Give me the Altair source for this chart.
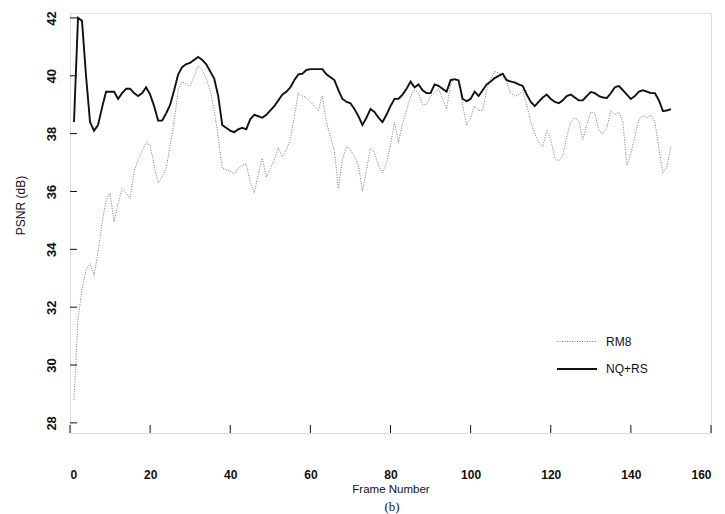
import altair as alt
import pandas as pd

frames = list(range(1, 151))

nqrs = [38.4, 42.0, 41.9, 40.0, 38.4, 38.1, 38.3, 38.9, 39.45, 39.45,
        39.45, 39.2, 39.4, 39.55, 39.55, 39.4, 39.3, 39.4, 39.6, 39.35,
        38.95, 38.45, 38.45, 38.7, 39.0, 39.5, 40.05, 40.3, 40.4, 40.45,
        40.55, 40.65, 40.55, 40.4, 40.15, 39.9, 39.3, 38.3, 38.2, 38.1,
        38.05, 38.15, 38.2, 38.15, 38.5, 38.65, 38.6, 38.55, 38.65, 38.8,
        38.95, 39.15, 39.35, 39.45, 39.6, 39.85, 40.05, 40.07, 40.2, 40.23,
        40.23, 40.23, 40.23, 40.05, 39.95, 39.85, 39.5, 39.2, 39.1, 39.05,
        38.85, 38.6, 38.3, 38.55, 38.85, 38.75, 38.55, 38.4, 38.65, 38.95,
        39.2, 39.2, 39.35, 39.55, 39.8, 39.6, 39.7, 39.5, 39.4, 39.4,
        39.7, 39.65, 39.55, 39.45, 39.85, 39.88, 39.84, 39.2, 39.12, 39.2,
        39.45, 39.3, 39.5, 39.7, 39.8, 39.92, 40.0, 40.07, 39.85, 39.8,
        39.77, 39.7, 39.65, 39.35, 39.1, 38.95, 39.1, 39.25, 39.35, 39.2,
        39.1, 39.05, 39.15, 39.3, 39.35, 39.25, 39.15, 39.15, 39.3, 39.44,
        39.4, 39.3, 39.25, 39.23, 39.4, 39.6, 39.65, 39.5, 39.35, 39.2,
        39.3, 39.45, 39.5, 39.45, 39.4, 39.4, 39.15, 38.78, 38.8, 38.85]

rm8 = [28.8, 31.6, 32.6, 33.3, 33.5, 33.1, 33.9, 34.9, 35.7, 35.95,
       34.95, 35.6, 36.1, 35.95, 35.75, 36.7, 37.1, 37.4, 37.7, 37.6,
       36.9, 36.3, 36.5, 36.8, 37.6, 38.4, 39.5, 39.8, 39.7, 39.65,
       39.98, 40.35, 40.2, 39.9, 39.5, 38.8, 37.9, 36.8, 36.75, 36.7,
       36.6, 36.8, 36.9, 36.95, 36.3, 35.95, 36.6, 37.15, 36.5, 36.8,
       37.1, 37.5, 37.2, 37.45, 37.8, 38.6, 39.4, 39.3, 39.25, 39.1,
       38.95, 38.8, 39.3, 38.4, 37.9, 37.4, 36.1, 37.1, 37.55, 37.45,
       37.2, 36.9, 36.0, 36.75, 37.5, 37.35, 36.9, 36.65, 37.0, 37.6,
       38.4, 37.7, 38.35, 38.8, 39.3, 39.5, 39.4, 39.0, 39.0, 39.3,
       39.4, 39.55, 39.2, 38.85, 39.7, 39.9, 39.85, 39.0, 38.3, 38.55,
       38.95, 38.8, 38.8, 39.5, 39.9, 40.15, 40.1, 39.95, 39.8, 39.4,
       39.3, 39.35, 39.5, 39.0, 38.4, 38.0, 37.7, 37.55, 38.1, 37.8,
       37.15, 37.05, 37.25, 37.9, 38.4, 38.55, 38.45, 37.8, 38.3, 38.75,
       38.7, 38.1, 38.0, 38.2, 38.8, 38.65, 38.75, 38.4, 36.9, 37.3,
       37.9, 38.5, 38.62, 38.55, 38.65, 38.4, 37.5, 36.65, 36.85, 37.55]

series_names = ["RM8", "NQ+RS"]
x_ticks = [0, 20, 40, 60, 80, 100, 120, 140, 160]
y_ticks = [28, 30, 32, 34, 36, 38, 40, 42]
caption = ["(b)"]

rows = []
for f, a, b in zip(frames, rm8, nqrs):
    rows.append({"frame": f, "psnr": a, "series": "RM8"})
    rows.append({"frame": f, "psnr": b, "series": "NQ+RS"})
df = pd.DataFrame(rows)

xs = alt.Scale(domain=[0, 160], nice=False, zero=False)
ys = alt.Scale(domain=[27.65, 42.17], nice=False, zero=False)

font = "Liberation Sans"

lines = alt.Chart(df).mark_line(clip=True).encode(
    x=alt.X("frame:Q", scale=xs,
            axis=alt.Axis(values=x_ticks, title="Frame Number", grid=False, domain=False,
                          ticks=False, labelPadding=36, labelFontSize=12,
                          labelFontWeight="bold", labelFont=font, labelColor="#111",
                          titleFont=font, titleFontSize=11.5, titleFontWeight="normal",
                          titleColor="#111", titleY=56, titleBaseline="middle")),
    y=alt.Y("psnr:Q", scale=ys,
            axis=alt.Axis(values=y_ticks, title="PSNR (dB)", grid=False, domain=False,
                          ticks=False, labelAngle=270, labelAlign="center",
                          labelBaseline="middle", labelPadding=19, labelFontSize=13,
                          labelFontWeight="bold", labelFont=font, labelColor="#111",
                          titleFont=font, titleFontSize=12, titleFontWeight="normal",
                          titleColor="#111", titleX=-50, titleY=192,
                          titleBaseline="middle")),
    color=alt.Color("series:N",
                    scale=alt.Scale(domain=series_names, range=["#777777", "#111111"]),
                    legend=alt.Legend(orient="none", legendX=486, legendY=308, title=None,
                                      symbolType="stroke", symbolSize=1600,
                                      symbolStrokeWidth=1.5, labelFont=font,
                                      labelFontSize=12, labelColor="#111",
                                      labelFontWeight="normal", rowPadding=0,
                                      labelOffset=8)),
    strokeDash=alt.StrokeDash("series:N",
                              scale=alt.Scale(domain=series_names, range=[[1, 1.5], [1, 0]]),
                              legend=None),
    strokeWidth=alt.StrokeWidth("series:N",
                                scale=alt.Scale(domain=series_names, range=[1.0, 1.9]),
                                legend=None),
    order="frame:Q",
)

yt = alt.Chart(pd.DataFrame({"v": y_ticks})).mark_rule(color="#111", strokeWidth=1).encode(
    y=alt.Y("v:Q", scale=ys), x=alt.value(0), x2=alt.value(7))
xt = alt.Chart(pd.DataFrame({"v": x_ticks})).mark_rule(color="#111", strokeWidth=1).encode(
    x=alt.X("v:Q", scale=xs), y=alt.value(420), y2=alt.value(412))

cap = alt.Chart(pd.DataFrame({"t": caption})).mark_text(
    font="Liberation Serif", fontSize=13, color="#111", baseline="bottom").encode(
    text="t:N", x=alt.value(322), y=alt.value(501))

chart = alt.layer(lines, yt, xt, cap).properties(
    width=641, height=420,
    autosize=alt.AutoSizeParams(type="none"),
    padding={"left": 70, "top": 13, "right": 14, "bottom": 81},
).configure_view(stroke="#111", strokeWidth=1.2).configure(background="white")

chart.save("out.html", embed_options={"renderer": "svg", "actions": False})
